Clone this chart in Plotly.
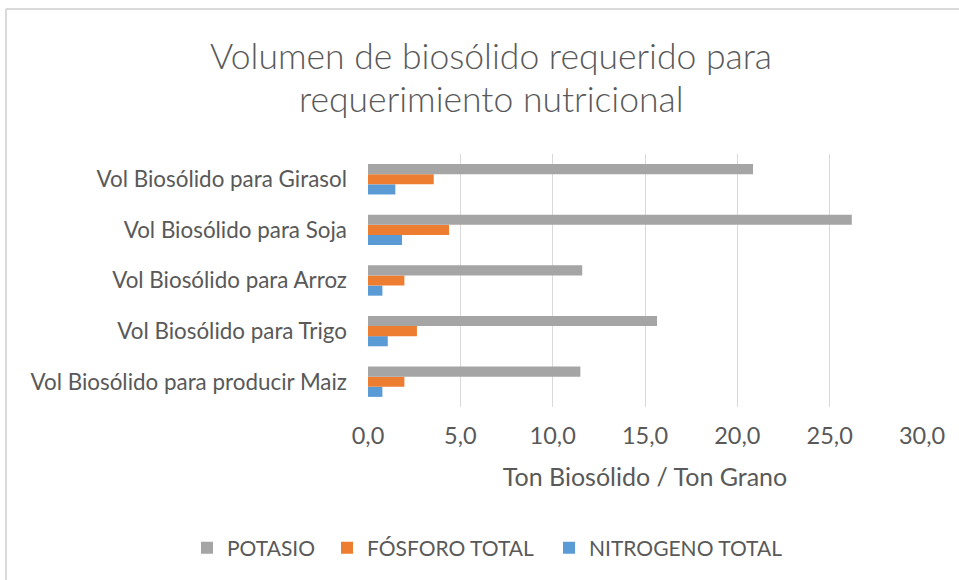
import plotly.graph_objects as go

categories = [
    "Vol Biosólido para producir Maiz",
    "Vol Biosólido para Trigo",
    "Vol Biosólido para Arroz",
    "Vol Biosólido para Soja",
    "Vol Biosólido para Girasol",
]
potasio = [11.5, 15.65, 11.6, 26.2, 20.85]
fosforo = [1.97, 2.65, 1.97, 4.39, 3.56]
nitrogeno = [0.78, 1.07, 0.78, 1.84, 1.48]

series_names = ["POTASIO", "FÓSFORO TOTAL", "NITROGENO TOTAL"]
colors = ["#A5A5A5", "#ED7D31", "#5B9BD5"]
x_ticks = [0, 5, 10, 15, 20, 25, 30]

FONT = "Lato"
TXT = "#595959"

W, H = 959, 580
L, R, T, B = 368, 922, 154, 407

fig = go.Figure()
for vals, name, col, leg in [
    (nitrogeno, series_names[2], colors[2], "legend3"),
    (fosforo, series_names[1], colors[1], "legend2"),
    (potasio, series_names[0], colors[0], "legend"),
]:
    fig.add_trace(go.Bar(
        y=categories, x=vals, name=name, orientation="h",
        marker=dict(color=col, line=dict(width=0)),
        legend=leg,
    ))


def px(xp):
    return (xp - L) / (R - L)


def py(yp):
    return (B - yp) / (B - T)


def legend_at(text_left):
    return dict(
        orientation="h", xref="container", yref="container",
        x=(text_left - 40) / W, xanchor="left", y=1 - 548 / H, yanchor="middle",
        font=dict(size=21, color=TXT), itemwidth=30, bgcolor="rgba(0,0,0,0)",
    )


fig.update_layout(
    width=W, height=H,
    margin=dict(l=L, r=W - R, t=T, b=H - B, autoexpand=False),
    paper_bgcolor="white", plot_bgcolor="white",
    barmode="group", bargap=0.4, bargroupgap=0,
    separators=",.",
    font=dict(family=FONT, color=TXT, size=21),
    showlegend=True,
    legend=legend_at(227),
    legend2=legend_at(367),
    legend3=legend_at(589),
    xaxis=dict(
        range=[0, 30], tickvals=x_ticks, tickformat=".1f",
        showgrid=True, gridcolor="#D9D9D9", gridwidth=1,
        zeroline=False, showline=False, ticks="",
        tickfont=dict(size=23.5, color=TXT), ticklabelstandoff=12,
        title=dict(text="Ton Biosólido / Ton Grano", font=dict(size=25, color=TXT), standoff=20),
    ),
    yaxis=dict(
        showgrid=False, zeroline=False, showline=False, ticks="",
        tickfont=dict(size=22.4, color=TXT), ticklabelstandoff=20,
    ),
    annotations=[
        dict(text="Volumen de biosólido requerido para", xref="paper", yref="paper",
             x=px(491), y=py(55), xanchor="center", yanchor="middle", showarrow=False,
             font=dict(size=35.5, color=TXT, family=FONT, weight=300)),
        dict(text="requerimiento nutricional", xref="paper", yref="paper",
             x=px(491), y=py(99), xanchor="center", yanchor="middle", showarrow=False,
             font=dict(size=35.5, color=TXT, family=FONT, weight=300)),
    ],
    shapes=[
        dict(type="line", xref="paper", yref="paper",
             x0=px(6), x1=px(959), y0=py(9), y1=py(9),
             line=dict(color="#D9D9D9", width=2)),
        dict(type="line", xref="paper", yref="paper",
             x0=px(6), x1=px(6), y0=py(9), y1=py(580),
             line=dict(color="#D9D9D9", width=2)),
    ],
)

fig.write_html("out.html", config={"displayModeBar": False},
               post_script="document.body.style.margin='0';")
